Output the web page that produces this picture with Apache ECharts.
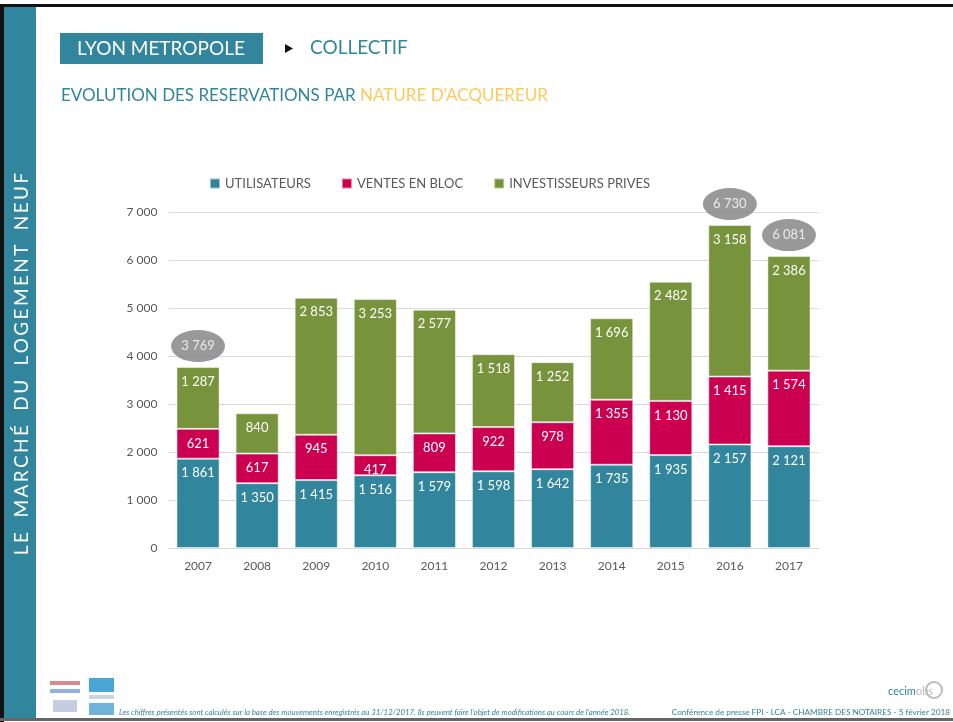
<!DOCTYPE html>
<html>
<head>
<meta charset="utf-8">
<title>Lyon Metropole - Collectif</title>
<script src="https://cdn.jsdelivr.net/npm/echarts@6/dist/echarts.min.js"></script>
<style>
  html, body { margin: 0; padding: 0; background: #fff; }
  #chart { width: 953px; height: 722px; }
</style>
</head>
<body>
<div id="chart"></div>
<script>
// ===== Data =====
const years = ['2007', '2008', '2009', '2010', '2011', '2012', '2013', '2014', '2015', '2016', '2017']
const utilisateurs = [1861, 1350, 1415, 1516, 1579, 1598, 1642, 1735, 1935, 2157, 2121]
const ventesEnBloc = [621, 617, 945, 417, 809, 922, 978, 1355, 1130, 1415, 1574]
const investisseurs = [1287, 840, 2853, 3253, 2577, 1518, 1252, 1696, 2482, 3158, 2386]
// totals shown in grey bubbles (only for some years)
const bubbleYears = ['2007', '2016', '2017']

const TEAL = '#31859C'
const RED = '#CC0050'
const GREEN = '#77933C'
const FONT = 'Lato, "Open Sans", sans-serif'

// thousands separator with a space, like "1 861"
function fmt(v) {
  return String(v).replace(/\B(?=(\d{3})+(?!\d))/g, ' ')
}

// spread letters (sidebar title)
function spaced(s) {
  return s.split('').join('\u2009').replace(/ /g, '  ')
}

const totals = years.map((y, i) => utilisateurs[i] + ventesEnBloc[i] + investisseurs[i])
const bubbleData = years.map((y, i) => bubbleYears.includes(y) ? totals[i] : '-')

function barSeries(name, data, color) {
  return {
    name,
    type: 'bar',
    stack: 'total',
    barWidth: '73%',
    data,
    itemStyle: { color, borderColor: 'rgba(255,255,255,0.5)', borderWidth: 1 },
    label: {
      show: true,
      position: 'insideTop',
      distance: 8,
      color: '#fff',
      fontSize: 13,
      fontFamily: FONT,
      formatter: p => fmt(p.value)
    }
  }
}

const chart = echarts.init(document.getElementById('chart'))

chart.setOption({
  animation: false,
  textStyle: { fontFamily: FONT },
  grid: { left: 168.5, right: 134.5, top: 212, bottom: 174 },
  legend: {
    data: ['UTILISATEURS', 'VENTES EN BLOC', 'INVESTISSEURS PRIVES'],
    left: 204,
    top: 172,
    icon: 'rect',
    itemWidth: 10,
    itemHeight: 10,
    itemGap: 30,
    textStyle: { color: '#595959', fontSize: 13, fontFamily: FONT }
  },
  xAxis: {
    type: 'category',
    data: years,
    axisTick: { show: false },
    axisLine: { lineStyle: { color: '#D9D9D9' } },
    axisLabel: { color: '#595959', fontSize: 12, margin: 12 }
  },
  yAxis: {
    type: 'value',
    min: 0,
    max: 7000,
    interval: 1000,
    axisLine: { show: false },
    axisTick: { show: false },
    axisLabel: { color: '#595959', fontSize: 12, margin: 11, formatter: v => fmt(v) },
    splitLine: { lineStyle: { color: '#D9D9D9' } }
  },
  series: [
    barSeries('UTILISATEURS', utilisateurs, TEAL),
    barSeries('VENTES EN BLOC', ventesEnBloc, RED),
    barSeries('INVESTISSEURS PRIVES', investisseurs, GREEN),
    {
      name: 'total',
      type: 'scatter',
      data: bubbleData,
      symbol: 'circle',
      symbolSize: [54, 32],
      symbolOffset: [0, -21],
      itemStyle: { color: '#808080' },
      z: 5,
      label: {
        show: true,
        position: 'inside',
        color: '#fff',
        fontSize: 13,
        fontFamily: FONT,
        formatter: p => fmt(p.value)
      }
    }
  ],
  graphic: [
    // page frame
    { type: 'rect', shape: { x: 0, y: 4, width: 953, height: 3 }, style: { fill: '#111' } },
    { type: 'rect', shape: { x: 0, y: 4, width: 4, height: 718 }, style: { fill: '#111' } },
    { type: 'rect', shape: { x: 4, y: 7, width: 32, height: 711 }, style: { fill: TEAL } },
    { type: 'rect', shape: { x: 0, y: 718, width: 953, height: 3 }, style: { fill: '#666' } },
    {
      type: 'text',
      x: 22,
      y: 364,
      rotation: Math.PI / 2,
      style: {
        text: spaced('LE MARCHÉ DU LOGEMENT NEUF'),
        fill: '#fff',
        font: '19px ' + FONT,
        align: 'center',
        verticalAlign: 'middle'
      }
    },
    // header
    { type: 'rect', shape: { x: 60, y: 33, width: 203, height: 31 }, style: { fill: TEAL } },
    {
      type: 'text', x: 161, y: 49,
      style: { text: 'LYON METROPOLE', fill: '#fff', font: '19px ' + FONT, align: 'center', verticalAlign: 'middle' }
    },
    {
      type: 'polygon',
      shape: { points: [[285, 44], [285, 53], [293, 48.5]] },
      style: { fill: '#111' }
    },
    {
      type: 'text', x: 310, y: 48,
      style: { text: 'COLLECTIF', fill: TEAL, font: '19px ' + FONT, verticalAlign: 'middle' }
    },
    {
      type: 'text', x: 61, y: 96,
      style: {
        text: '{a|EVOLUTION DES RESERVATIONS PAR }{b|NATURE D\u2019ACQUEREUR}',
        verticalAlign: 'middle',
        rich: {
          a: { fill: TEAL, font: '17px ' + FONT },
          b: { fill: '#FFC95E', font: '17px ' + FONT }
        }
      }
    },
    // footer
    {
      type: 'text', x: 119, y: 712,
      style: {
        text: 'Les chiffres présentés sont calculés sur la base des mouvements enregistrés au 31/12/2017. Ils peuvent faire l\u2019objet de modifications au cours de l\u2019année 2018.',
        fill: TEAL, font: 'italic 7.8px ' + FONT, verticalAlign: 'middle'
      }
    },
    {
      type: 'text', x: 950, y: 712,
      style: {
        text: 'Conférence de presse FPI - LCA - CHAMBRE DES NOTAIRES - 5 février 2018',
        fill: TEAL, font: '8.2px ' + FONT, align: 'right', verticalAlign: 'middle'
      }
    },
    {
      type: 'text', x: 888, y: 691,
      style: {
        text: '{a|cecim}{b|obs}',
        verticalAlign: 'middle',
        rich: {
          a: { fill: TEAL, font: '11px ' + FONT },
          b: { fill: '#bbb', font: '11px ' + FONT }
        }
      }
    },
    { type: 'circle', shape: { cx: 934, cy: 690, r: 8 }, style: { fill: 'none', stroke: '#bbb', lineWidth: 2 } },
    // partner logos (simplified)
    { type: 'rect', shape: { x: 50, y: 681, width: 30, height: 4 }, style: { fill: '#d98a8a' } },
    { type: 'rect', shape: { x: 50, y: 689, width: 30, height: 4 }, style: { fill: '#8fb3dc' } },
    { type: 'rect', shape: { x: 53, y: 700, width: 24, height: 12 }, style: { fill: '#c5cde0' } },
    { type: 'rect', shape: { x: 89, y: 678, width: 25, height: 14 }, style: { fill: '#4aa6d4' } },
    { type: 'rect', shape: { x: 89, y: 695, width: 25, height: 4 }, style: { fill: '#c8d4e0' } },
    { type: 'rect', shape: { x: 89, y: 703, width: 25, height: 12 }, style: { fill: '#6fb3db' } }
  ]
})
</script>
</body>
</html>
